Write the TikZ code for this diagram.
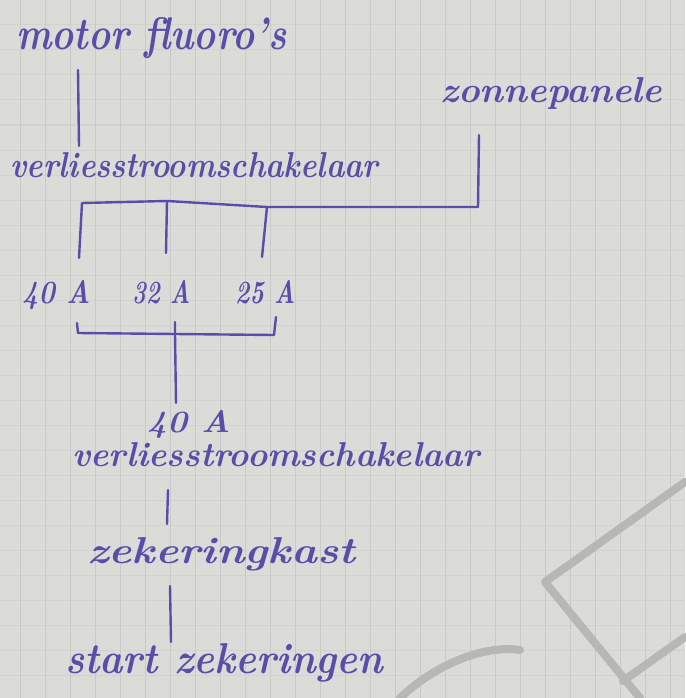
\documentclass[tikz,border=0pt]{standalone}
\usepackage{graphicx}
\definecolor{paper}{RGB}{219,220,216}
\definecolor{gridc}{RGB}{200,202,199}
\definecolor{ink}{RGB}{88,78,170}
\definecolor{shade}{RGB}{182,184,182}
\newcommand{\hw}[3]{\resizebox{#1pt}{#2pt}{\bfseries\itshape #3}}
\begin{document}
\begin{tikzpicture}[x=1pt,y=-1pt,
  lbl/.style={anchor=base west,inner sep=0pt,text=ink},
  wire/.style={draw=ink,line width=2.4pt,line cap=round,line join=round},
  gridline/.style={draw=gridc,line width=1pt},
  ghost/.style={draw=shade,line width=8pt,line cap=round,line join=round}]
\fill[paper] (0,0) rectangle (685,698);
\useasboundingbox (0,0) rectangle (685,698);
% paper grid
\foreach \gx in {20,45,...,670} \draw[gridline] (\gx,0) -- (\gx,698);
\foreach \gy in {25,50,...,690} \draw[gridline,draw opacity=0.45] (0,\gy) -- (685,\gy);
% show-through from the other page
\draw[ghost] (685,482) -- (545,582) -- (640,698);
\draw[ghost] (623,681) -- (685,637);
\draw[ghost] (400,698) .. controls (440,660) and (490,645) .. (520,650);
% texts
\node[lbl] (motor) at (16,50) {\hw{270}{32}{motor fluoro's}};
\node[lbl] (zon) at (440,103) {\hw{222}{25}{zonnepanele}};
\node[lbl] (vs1) at (10,177) {\hw{368}{25}{verliesstroomschakelaar}};
\node[lbl] (a40) at (22,303) {\hw{68}{23}{40 A}};
\node[lbl] (a32) at (132,303) {\hw{58}{23}{32 A}};
\node[lbl] (a25) at (235,303) {\hw{60}{23}{25 A}};
\node[lbl] (b40) at (147,432) {\hw{83}{22}{40 A}};
\node[lbl] (vs2) at (72,466) {\hw{408}{24}{verliesstroomschakelaar}};
\node[lbl] (zk) at (87,563) {\hw{268}{26}{zekeringkast}};
\node[lbl] (sz) at (65,673) {\hw{318}{30}{start zekeringen}};
% connector end points
\coordinate (m1) at (78,70);   \coordinate (m2) at (79,146);
\coordinate (z1) at (479,135); \coordinate (z2) at (478,207);
\coordinate (bl) at (82,203);  \coordinate (bm) at (167,201);
\coordinate (br) at (267,207);
\coordinate (dl) at (79,258);  \coordinate (dm) at (166,253);
\coordinate (dr) at (262,257);
\coordinate (ul) at (77,323);  \coordinate (ulb) at (78,333);
\coordinate (ur) at (276,317); \coordinate (urb) at (274,335);
\coordinate (um) at (175,322); \coordinate (umb) at (175,334);
\coordinate (d40) at (176,403);
\coordinate (v1) at (168,490); \coordinate (v2) at (167,524);
\coordinate (k1) at (170,586); \coordinate (k2) at (171,642);
% connectors
\draw[wire] (m1) -- (m2);
\draw[wire] (z1) -- (z2);
\draw[wire] (dl) -- (bl) -- (bm) -- (br) -- (z2);
\draw[wire] (bm) -- (dm);
\draw[wire] (br) -- (dr);
\draw[wire] (ul) -- (ulb) -- (umb) -- (urb) -- (ur);
\draw[wire] (um) -- (umb) -- (d40);
\draw[wire] (v1) -- (v2);
\draw[wire] (k1) -- (k2);
\end{tikzpicture}
\end{document}
